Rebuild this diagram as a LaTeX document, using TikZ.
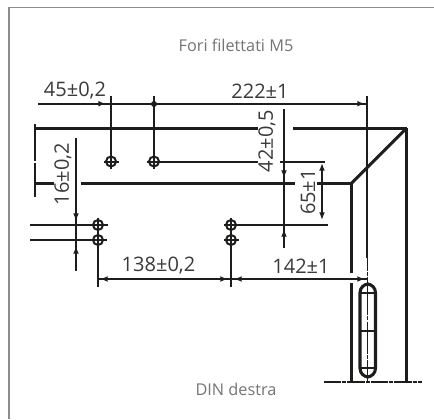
\documentclass[tikz,border=0pt]{standalone}
\usepackage{fontspec}
\setmainfont{Open Sans}
\usetikzlibrary{arrows.meta}
\tikzset{
  x=0.75pt,y=-0.75pt,
  thickbar/.style={line width=2.3pt,draw=ink},
  thinline/.style={line width=1.5pt,draw=ink},
  tipped/.style={thinline,-{Latex[length=5.8pt,width=4.4pt]}},
  dimtext/.style={text=dimtxt,font=\fontsize{15pt}{16pt}\selectfont,inner sep=0pt},
  captext/.style={text=captxt,font=\fontsize{12.2pt}{14pt}\selectfont,inner sep=0pt},
  holeline/.style={thinline,fill=none}
}
\definecolor{ink}{HTML}{1D1D1B}
\definecolor{dimtxt}{HTML}{3A3A3A}
\definecolor{captxt}{HTML}{747474}
\definecolor{framec}{HTML}{8C8C8C}
\newcommand{\holemark}[2]{%
  \draw[holeline] (#1,#2) circle[radius=5];
  \draw[holeline] (#1-7.5,#2) -- (#1+7.5,#2) (#1,#2-7.5) -- (#1,#2+7.5);}
\begin{document}
\begin{tikzpicture}
\useasboundingbox (0,0) rectangle (434,419);
% frame
\draw[line width=1.1pt,draw=framec] (9,419) -- (9,7.5) -- (434,7.5);
% texts
\node[captext] (t1) at (236,45) {Fori filettati M5};
\node[captext] (t2) at (236,389) {DIN destra};
\node[dimtext] (d45) at (75,91) {45±0,2};
\node[dimtext] (d222) at (260,91) {222±1};
\node[dimtext,rotate=90] (d42) at (267,141) {42±0,5};
\node[dimtext,rotate=90] (d65) at (308,192) {65±1};
\node[dimtext,rotate=90] (d16) at (63,174) {16±0,2};
\node[dimtext] (d138) at (158.5,266) {138±0,2};
\node[dimtext] (d142) at (301,266) {142±1};
% thick outline
\draw[thickbar] (35,128.3) -- (258,128.3);
\draw[thickbar] (293,128.3) -- (407,128.3);
\draw[thickbar] (35,183.3) -- (54,183.3);
\draw[thickbar] (81,183.3) -- (295,183.3);
\draw[thickbar] (317,183.3) -- (351.5,183.3);
\draw[thickbar] (351.5,183.3) -- (406.5,128.3);
\draw[thickbar] (351.5,183.3) -- (351.5,273);
\draw[thickbar] (351.5,283) -- (351.5,381.5);
\draw[thinline,line width=1.8pt] (406.5,128.3) -- (406.5,381.5);
% left centre line
\draw[line width=1.3pt,draw=ink,dash pattern=on 28pt off 1pt] (35,124) -- (35,197);
% bottom line
\draw[line width=1.6pt,draw=ink,dash pattern=on 13pt off 0.8pt on 3pt off 0.8pt] (324,381.7) -- (422,381.7);
% extension lines
\draw[thinline] (111,96) -- (111,161.5);
\draw[thinline] (154,96) -- (154,161.5);
\draw[thinline] (154,161.5) -- (258,161.5);
\draw[thinline] (280,161.5) -- (325,161.5);
\draw[thinline] (30,225) -- (108,225);
\draw[thinline] (30,240) -- (107,240);
\draw[thinline] (98,240) -- (98,287);
\draw[thinline] (231,240) -- (231,287);
\draw[thinline] (231,225) -- (328,225);
\draw[thinline] (367,96) -- (367,258);
\draw[line width=0.8pt,draw=ink,dash pattern=on 10pt off 0.8pt on 2.5pt off 0.8pt] (367.5,258) -- (367.5,283);
% holes
\holemark{111}{161.5}
\holemark{154}{161.5}
\holemark{98}{225}
\holemark{98}{240}
\holemark{231}{225}
\holemark{231}{240}
% dimension lines
\fill[ink] (154,104) circle[radius=3];
\draw[thinline] (38,103.7) -- (367,103.7);
\draw[tipped] (38,103.7) -- (106,103.7);
\draw[tipped] (154,103.7) -- (365,103.7);
\draw[thinline] (76,138) -- (76,271);
\draw[tipped] (76,138) -- (76,221);
\draw[tipped] (76,271) -- (76,246);
\draw[thinline] (284,109) -- (284,248);
\draw[tipped] (284,109) -- (284,178);
\draw[tipped] (284,248) -- (284,229);
\draw[thinline,{Latex[length=5.8pt,width=4.4pt]}-{Latex[length=5.8pt,width=4.4pt]}] (322,163) -- (322,220);
\draw[thinline] (98,279) -- (367,279);
\draw[tipped,{Latex[length=5.8pt,width=4.4pt]}-] (100,279) -- (205,279);
\draw[tipped] (205,279) -- (228,279);
\draw[thinline,{Latex[length=5.8pt,width=4.4pt]}-] (234,279) -- (300,279);
\draw[tipped] (300,279) -- (365,279);
% slot
\draw[thickbar,rounded corners=6.5pt] (360,331) -- (360,284) -- (375.5,284) -- (375.5,377) -- (360,377) -- cycle;
\draw[thinline] (360,293) -- (375.5,293);
\draw[thinline] (359,331) -- (377,331);
\draw[thinline] (360,368) -- (375.5,368);
\draw[line width=0.9pt,draw=ink,dash pattern=on 24pt off 1pt on 3pt off 1pt] (367.5,283) -- (367.5,382);
\end{tikzpicture}
\end{document}
